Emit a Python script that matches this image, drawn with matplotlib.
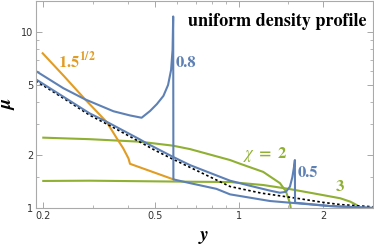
import matplotlib
matplotlib.use('Agg')
import matplotlib.pyplot as plt
from matplotlib.ticker import FixedLocator, NullFormatter

plt.rcParams['mathtext.fontset'] = 'stix'
plt.rcParams['font.family'] = ['DejaVu Sans']

# colours (Mathematica default palette)
azul = '#5E81B5'
naranja = '#E19C24'
verde = '#8FB032'

# curva 0.8: rama superior, pico, caida vertical y rama inferior
x_08 = [0.188, 0.236, 0.282, 0.356, 0.408, 0.449, 0.481, 0.509, 0.537, 0.558, 0.572,
        0.579, 0.582, 0.583, 0.668, 0.83, 0.929, 1.29, 1.585, 2.11, 3.0]
y_08 = [6.03, 4.81, 4.16, 3.56, 3.37, 3.27, 3.57, 3.91, 4.35, 5.02, 6.11,
        7.94, 12.3, 1.46, 1.39, 1.29, 1.20, 1.10, 1.07, 1.03, 1.005]

# curva 0.5
x_05 = [0.188, 0.293, 0.337, 0.443, 0.468, 0.581, 0.668, 0.929, 1.10, 1.29,
        1.40, 1.47, 1.52, 1.55, 1.57, 1.583, 1.585, 2.11, 3.0]
y_05 = [5.41, 3.46, 3.10, 2.46, 2.34, 1.96, 1.76, 1.435, 1.34, 1.26,
        1.226, 1.24, 1.327, 1.50, 1.70, 1.88, 1.076, 1.03, 1.005]

# curva 1.5^(1/2)
x_raiz = [0.199, 0.237, 0.282, 0.337, 0.366, 0.386, 0.403, 0.408, 0.583]
y_raiz = [7.60, 5.64, 4.16, 3.09, 2.50, 2.19, 1.92, 1.79, 1.46]

# chi = 2
x_chi2 = [0.2, 0.293, 0.443, 0.58, 0.668, 0.929, 1.0, 1.22, 1.40, 1.47, 1.52, 1.53]
y_chi2 = [2.52, 2.47, 2.39, 2.27, 2.17, 1.88, 1.80, 1.61, 1.39, 1.25, 1.07, 1.0]

# chi = 3
x_chi3 = [0.2, 0.293, 0.668, 0.929, 1.22, 1.5, 1.84, 2.30, 2.5, 2.63, 2.70]
y_chi3 = [1.43, 1.435, 1.416, 1.41, 1.356, 1.29, 1.217, 1.14, 1.09, 1.044, 1.0]

# referencia punteada
x_ref = [0.188, 0.24, 0.293, 0.35, 0.443, 0.5, 0.581, 0.7, 0.929, 1.2, 1.61, 2.0, 2.3, 3.0]
y_ref = [5.30, 4.15, 3.38, 2.92, 2.38, 2.14, 1.90, 1.65, 1.33, 1.22, 1.14, 1.08, 1.05, 1.02]

x_ticks = [0.2, 0.5, 1, 2]
x_tick_labels = ['0.2', '0.5', '1', '2']
y_ticks = [1, 2, 5, 10]
y_tick_labels = ['1', '2', '5', '10']

fig = plt.figure(figsize=(3.74, 2.5), dpi=100)
ax = fig.add_axes([0.0963, 0.1668, 0.9011, 0.8292])
ax.set_xscale('log')
ax.set_yscale('log')

lw = 1.5
ax.plot(x_chi2, y_chi2, color=verde, lw=lw)
ax.plot(x_chi3, y_chi3, color=verde, lw=lw)
ax.plot(x_raiz, y_raiz, color=naranja, lw=lw)
ax.plot(x_ref, y_ref, color='black', lw=1.2, ls=(0, (1.5, 1.5)))
ax.plot(x_05, y_05, color=azul, lw=lw)
ax.plot(x_08, y_08, color=azul, lw=lw)

ax.set_xlim(0.1884, 3.01)
ax.set_ylim(1, 15.06)

ax.xaxis.set_major_locator(FixedLocator(x_ticks))
ax.set_xticklabels(x_tick_labels)
ax.xaxis.set_minor_locator(FixedLocator([0.3, 0.4, 0.6, 0.7, 0.8, 0.9, 1.5, 3]))
ax.xaxis.set_minor_formatter(NullFormatter())
ax.yaxis.set_major_locator(FixedLocator(y_ticks))
ax.set_yticklabels(y_tick_labels)
ax.yaxis.set_minor_locator(FixedLocator([1.5, 3, 4, 6, 7, 8, 9]))
ax.yaxis.set_minor_formatter(NullFormatter())

ax.tick_params(which='both', direction='in', top=True, right=True,
               color='#999999', labelsize=7, labelcolor='#333333', pad=2)
ax.tick_params(which='major', length=4, width=0.6)
ax.tick_params(which='minor', length=2, width=0.5)
for s in ax.spines.values():
    s.set_color('#aaaaaa')
    s.set_linewidth(0.8)

serif = 'STIXGeneral'
ax.set_xlabel('y', fontsize=14, family=serif, weight='bold', style='italic', labelpad=4)
ax.set_ylabel('μ', fontsize=14, family=serif, weight='bold', style='italic', labelpad=3)

ax.text(0.982, 0.9035, 'uniform density profile', transform=ax.transAxes,
        ha='right', va='center', fontsize=13, family=serif, weight='bold')
ax.text(0.226, 6.87, r'$\mathbf{1.5^{1/2}}$', color=naranja, fontsize=12, ha='left', va='center')
ax.text(0.596, 6.72, '0.8', color=azul, fontsize=12, family=serif, weight='bold',
        ha='left', va='center')
ax.text(1.238, 2.01, r'$\chi\ \mathbf{=\ 2}$', color=verde, fontsize=12, ha='center', va='center')
ax.text(1.624, 1.597, '0.5', color=azul, fontsize=12, family=serif, weight='bold',
        ha='left', va='center')
ax.text(2.285, 1.32, '3', color=verde, fontsize=12, family=serif, weight='bold',
        ha='center', va='center')

fig.savefig('out.png', dpi=100)
